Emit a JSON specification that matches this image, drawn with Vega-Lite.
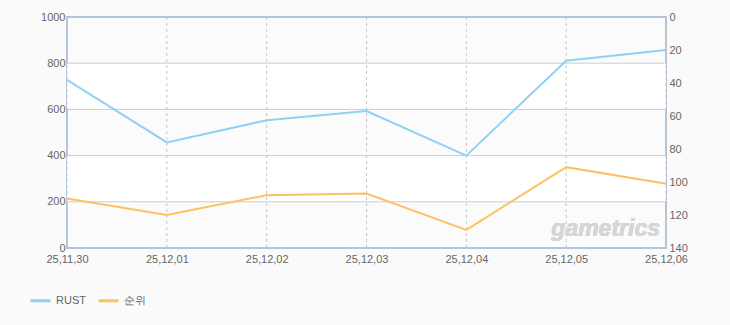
{
  "$schema": "https://vega.github.io/schema/vega-lite/v6.json",
  "width": 599,
  "height": 231,
  "autosize": "none",
  "padding": {"left": 67, "top": 17, "right": 64, "bottom": 77},
  "background": "#fafafa",
  "config": {
    "view": {"stroke": "#b3c5d9", "strokeWidth": 2, "fill": "#fbfbfb"},
    "font": "Liberation Sans",
    "axis": {"labelFont": "Liberation Sans", "labelFontSize": 11, "labelColor": "#666666", "ticks": false, "domain": false, "grid": false, "title": null}
  },
  "datasets": {
    "main": [
      {"date": "25,11,30", "rust": 728, "rank": 110},
      {"date": "25,12,01", "rust": 457, "rank": 120},
      {"date": "25,12,02", "rust": 553, "rank": 108},
      {"date": "25,12,03", "rust": 593, "rank": 107},
      {"date": "25,12,04", "rust": 400, "rank": 129},
      {"date": "25,12,05", "rust": 811, "rank": 91},
      {"date": "25,12,06", "rust": 857, "rank": 101}
    ],
    "bands": [
      {"lo": 600, "hi": 800},
      {"lo": 200, "hi": 400}
    ],
    "grid": [
      {"v": 200}, {"v": 400}, {"v": 600}, {"v": 800}
    ]
  },
  "layer": [
    {
      "layer": [
        {
          "data": {"name": "bands"},
          "mark": {"type": "rect", "fill": "#ffffff"},
          "encoding": {
            "x": {"datum": "25,11,30"},
            "x2": {"datum": "25,12,06"},
            "y": {"field": "lo", "type": "quantitative"},
            "y2": {"field": "hi"}
          }
        },
        {
          "data": {"name": "grid"},
          "mark": {"type": "rule", "color": "#cccccc", "strokeWidth": 1},
          "encoding": {"y": {"field": "v", "type": "quantitative"}}
        },
        {
          "data": {"name": "main"},
          "mark": {"type": "rule", "color": "#c4c4c4", "strokeWidth": 1, "strokeDash": [3, 3]},
          "encoding": {"x": {"field": "date", "type": "ordinal"}}
        },
        {
          "data": {"name": "main"},
          "mark": {"type": "text", "text": "gametrics", "font": "Liberation Sans", "fontSize": 23, "fontStyle": "italic", "fontWeight": "bold", "fill": "#d6d6d6", "align": "right", "baseline": "alphabetic", "dx": -6},
          "encoding": {
            "x": {"datum": "25,12,06"},
            "y": {"datum": 52}
          }
        },
        {
          "data": {"name": "main"},
          "mark": {"type": "line", "strokeWidth": 2},
          "encoding": {
            "x": {"field": "date", "type": "ordinal", "scale": {"type": "point", "padding": 0}, "axis": {"labelAngle": 0, "labelAlign": "center", "labelBaseline": "top", "labelPadding": 5, "labelFlush": false, "labelBound": false, "labelOverlap": false, "orient": "bottom"}},
            "y": {"field": "rust", "type": "quantitative", "scale": {"domain": [0, 1000], "nice": false}, "axis": {"values": [0, 200, 400, 600, 800, 1000], "format": "d", "labelPadding": 2, "orient": "left"}},
            "color": {"datum": "RUST"}
          }
        }
      ]
    },
    {
      "data": {"name": "main"},
      "mark": {"type": "line", "strokeWidth": 2},
      "encoding": {
        "x": {"field": "date", "type": "ordinal"},
        "y": {"field": "rank", "type": "quantitative", "scale": {"domain": [0, 140], "reverse": true, "nice": false}, "axis": {"values": [0, 20, 40, 60, 80, 100, 120, 140], "orient": "right", "labelPadding": 3}},
        "color": {
          "datum": "순위",
          "scale": {"domain": ["RUST", "순위"], "range": ["#8fd1f2", "#ffc062"]},
          "legend": {"title": null, "orient": "none", "legendX": -38, "legendY": 272, "direction": "horizontal", "symbolType": "stroke", "symbolSize": 400, "symbolStrokeWidth": 3, "labelFontSize": 11, "labelColor": "#666666", "labelFont": "Liberation Sans", "columnPadding": 6, "symbolOffset": 0}
        }
      }
    }
  ],
  "resolve": {"scale": {"y": "independent"}, "axis": {"y": "independent"}}
}
